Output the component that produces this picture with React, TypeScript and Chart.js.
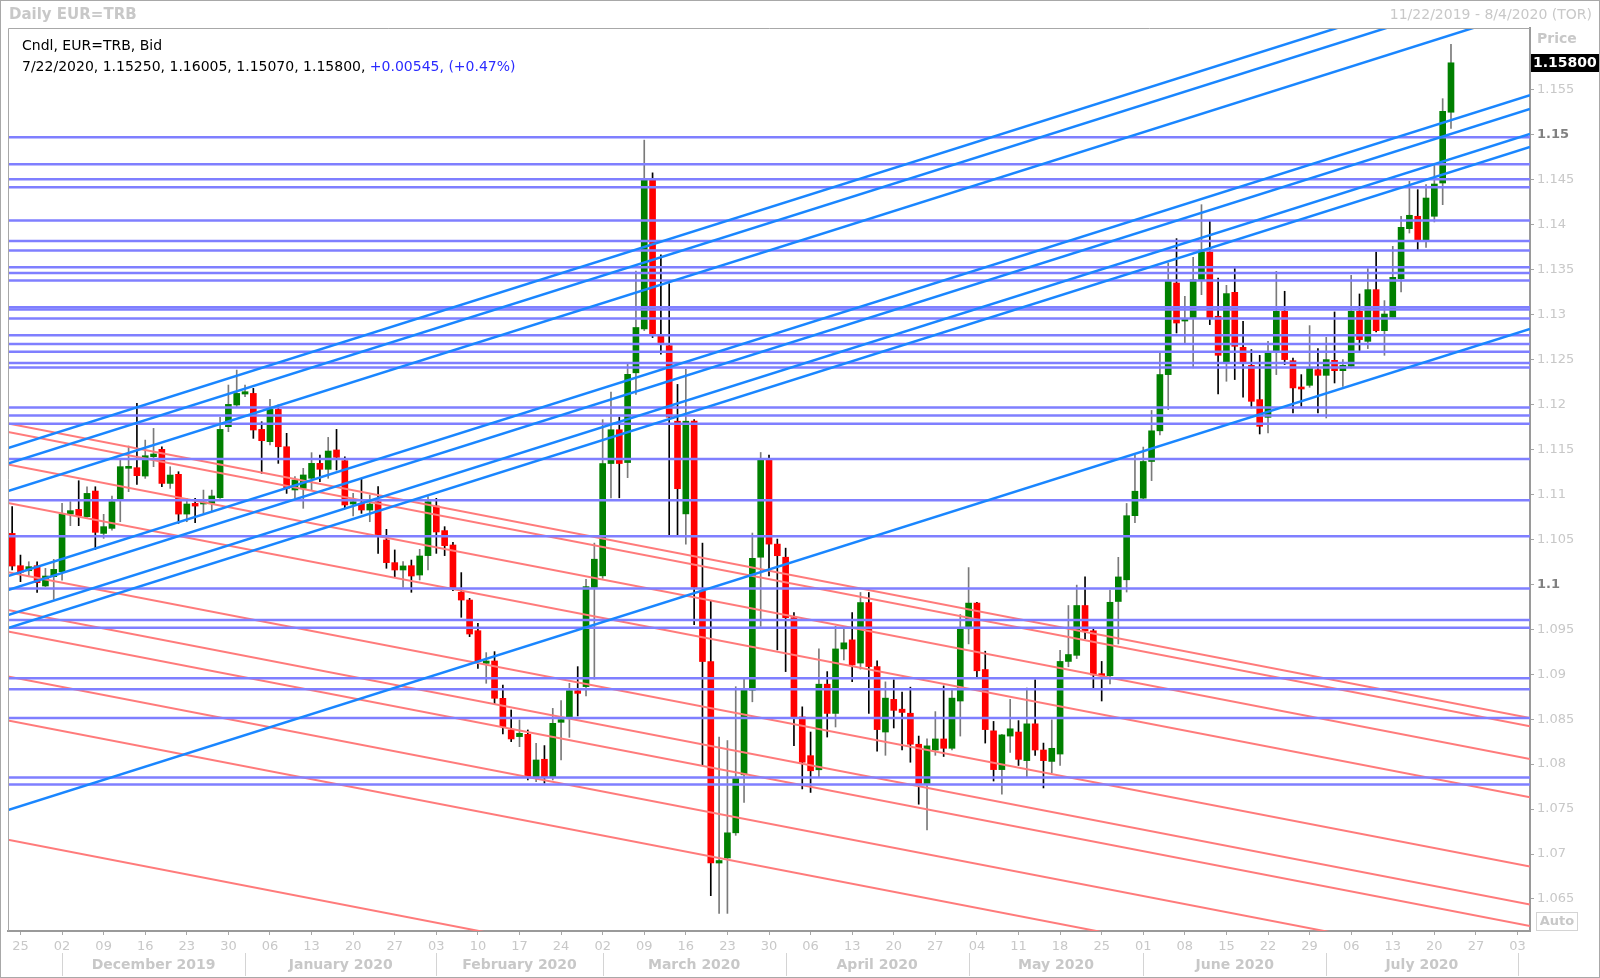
import React, { useEffect, useRef } from 'react';
import { Chart, registerables } from 'chart.js';

Chart.register(...registerables);

const CHART_W = 1600;
const CHART_H = 978;
const FONT = '"DejaVu Sans", Verdana, sans-serif';

// Daily EUR=TRB candles, 22 Nov 2019 .. 22 Jul 2020 (one value per weekday)
const opens = [
  1.10566, 1.10207, 1.10151, 1.10207, 1.09981, 1.10085, 1.10140, 1.10781, 1.10833, 1.10752,
  1.11037, 1.10566, 1.10622, 1.10948, 1.11290, 1.11297, 1.11204, 1.11419, 1.11501, 1.11122,
  1.11223, 1.10781, 1.10900, 1.10893, 1.10900, 1.10963, 1.11753, 1.11994, 1.12116, 1.12123,
  1.11723, 1.11586, 1.11945, 1.11530, 1.11049, 1.11067, 1.11179, 1.11345, 1.11279, 1.11494,
  1.11375, 1.10893, 1.10900, 1.10826, 1.10919, 1.10493, 1.10241, 1.10159, 1.10207, 1.10103,
  1.10319, 1.10871, 1.10597, 1.10437, 1.09911, 1.09825, 1.09484, 1.09121, 1.09147, 1.08732,
  1.08380, 1.08306, 1.08331, 1.07861, 1.08054, 1.07854, 1.08465, 1.08521, 1.08817, 1.08862,
  1.09965, 1.10094, 1.11343, 1.11719, 1.11354, 1.12352, 1.12839, 1.14492, 1.12766, 1.12654,
  1.11814, 1.10783, 1.11814, 1.09926, 1.09141, 1.06900, 1.06956, 1.07236, 1.07881, 1.08822,
  1.10301, 1.11382, 1.10447, 1.10301, 1.09629, 1.08525, 1.08094, 1.07937, 1.08889, 1.08564,
  1.09281, 1.09382, 1.09124, 1.09797, 1.09085, 1.08357, 1.08720, 1.08611, 1.08566, 1.08221,
  1.07780, 1.08157, 1.08280, 1.08176, 1.08702, 1.09505, 1.09791, 1.09052, 1.08370, 1.07939,
  1.08312, 1.08357, 1.08039, 1.08448, 1.08157, 1.08030, 1.08112, 1.09142, 1.09210, 1.09764,
  1.09483, 1.09006, 1.08983, 1.09809, 1.10050, 1.10763, 1.10958, 1.11366, 1.11707, 1.12332,
  1.13351, 1.12928, 1.12962, 1.13388, 1.13696, 1.12981, 1.12461, 1.13247, 1.12636, 1.12435,
  1.12054, 1.11857, 1.12599, 1.13036, 1.12487, 1.12191, 1.12213, 1.12387, 1.12324, 1.12491,
  1.12376, 1.12424, 1.13036, 1.12702, 1.13277, 1.12821, 1.12969, 1.13399, 1.13955, 1.14093,
  1.13833, 1.14093, 1.14463, 1.15250,
];
const highs = [
  1.10863, 1.10325, 1.10251, 1.10251, 1.10177, 1.10277, 1.10900, 1.10919, 1.11152, 1.11085,
  1.11085, 1.10778, 1.10982, 1.11382, 1.11538, 1.12012, 1.11604, 1.11734, 1.11530, 1.11308,
  1.11252, 1.10956, 1.10956, 1.11048, 1.11048, 1.11856, 1.12216, 1.12383, 1.12216, 1.12179,
  1.11808, 1.12057, 1.11994, 1.11679, 1.11197, 1.11290, 1.11464, 1.11438, 1.11634, 1.11723,
  1.11419, 1.11012, 1.11178, 1.10993, 1.11086, 1.10611, 1.10382, 1.10252, 1.10270, 1.10389,
  1.10975, 1.10956, 1.10641, 1.10467, 1.10130, 1.09844, 1.09566, 1.09240, 1.09251, 1.08880,
  1.08602, 1.08491, 1.08380, 1.08232, 1.08206, 1.08620, 1.08706, 1.08899, 1.09084, 1.10055,
  1.10458, 1.11831, 1.12139, 1.11859, 1.12447, 1.13483, 1.14940, 1.14576, 1.13663, 1.13343,
  1.12223, 1.12391, 1.11831, 1.10458, 1.09814, 1.08301, 1.08262, 1.08861, 1.08945, 1.10570,
  1.11466, 1.11438, 1.10503, 1.10402, 1.09685, 1.08637, 1.08357, 1.09281, 1.09029, 1.09533,
  1.09533, 1.09685, 1.09909, 1.09909, 1.09150, 1.08915, 1.08938, 1.08802, 1.08856, 1.08312,
  1.08280, 1.08584, 1.08870, 1.08838, 1.09664, 1.10186, 1.09800, 1.09256, 1.08475, 1.08330,
  1.08720, 1.08484, 1.08847, 1.08938, 1.08234, 1.08493, 1.09265, 1.09764, 1.09991, 1.10082,
  1.09505, 1.09142, 1.09937, 1.10300, 1.10899, 1.11435, 1.11526, 1.11934, 1.12569, 1.13574,
  1.13844, 1.13203, 1.13637, 1.14222, 1.14037, 1.13407, 1.13325, 1.13511, 1.12925, 1.12610,
  1.12547, 1.12702, 1.13481, 1.13259, 1.12517, 1.12332, 1.12877, 1.12621, 1.12747, 1.13029,
  1.12499, 1.13436, 1.13229, 1.13511, 1.13696, 1.13155, 1.13759, 1.14093, 1.14482, 1.14389,
  1.14445, 1.14667, 1.15401, 1.16005,
];
const lows = [
  1.10159, 1.10029, 1.10084, 1.09910, 1.09974, 1.09832, 1.10047, 1.10652, 1.10652, 1.10744,
  1.10388, 1.10511, 1.10603, 1.10696, 1.11030, 1.11111, 1.11178, 1.11308, 1.11085, 1.11067,
  1.10678, 1.10696, 1.10685, 1.10789, 1.10808, 1.10956, 1.11697, 1.11975, 1.12086, 1.11623,
  1.11234, 1.11549, 1.11345, 1.11011, 1.10956, 1.10845, 1.11049, 1.11141, 1.11179, 1.11271,
  1.10845, 1.10760, 1.10789, 1.10696, 1.10344, 1.10178, 1.10077, 1.09966, 1.09911, 1.10048,
  1.10159, 1.10344, 1.10319, 1.09929, 1.09633, 1.09418, 1.09065, 1.08899, 1.08669, 1.08335,
  1.08250, 1.08194, 1.07824, 1.07805, 1.07787, 1.07824, 1.08046, 1.08298, 1.08535, 1.08758,
  1.08945, 1.10066, 1.10962, 1.10962, 1.11186, 1.12111, 1.12822, 1.12744, 1.12559, 1.10542,
  1.10542, 1.10447, 1.09550, 1.07993, 1.06536, 1.06340, 1.06340, 1.07208, 1.07573, 1.08693,
  1.09533, 1.10094, 1.09270, 1.09029, 1.08206, 1.07724, 1.07685, 1.07853, 1.08301, 1.08413,
  1.09158, 1.08917, 1.09057, 1.08564, 1.08143, 1.08098, 1.08402, 1.08157, 1.08021, 1.07554,
  1.07267, 1.08098, 1.08085, 1.08157, 1.08312, 1.09337, 1.08974, 1.08234, 1.07812, 1.07667,
  1.08130, 1.07985, 1.07857, 1.08098, 1.07735, 1.07903, 1.07985, 1.09083, 1.09174, 1.09392,
  1.08838, 1.08702, 1.08892, 1.09337, 1.09914, 1.10685, 1.10944, 1.11153, 1.11661, 1.11943,
  1.12795, 1.12684, 1.12406, 1.13221, 1.12888, 1.12117, 1.12258, 1.12277, 1.12080, 1.11961,
  1.11672, 1.11683, 1.12332, 1.12443, 1.11905, 1.11979, 1.12191, 1.11905, 1.11850, 1.12239,
  1.12202, 1.12406, 1.12599, 1.12621, 1.12806, 1.12547, 1.12969, 1.13251, 1.13907, 1.13722,
  1.13748, 1.14030, 1.14222, 1.15070,
];
const closes = [
  1.10203, 1.10133, 1.10196, 1.10018, 1.10092, 1.10166, 1.10781, 1.10819, 1.10763, 1.11011,
  1.10578, 1.10641, 1.10919, 1.11308, 1.11300, 1.11208, 1.11430, 1.11449, 1.11122, 1.11215,
  1.10781, 1.10893, 1.10870, 1.10908, 1.10982, 1.11723, 1.12001, 1.12123, 1.12142, 1.11716,
  1.11597, 1.11945, 1.11530, 1.11067, 1.11160, 1.11216, 1.11345, 1.11279, 1.11482, 1.11412,
  1.10882, 1.10919, 1.10826, 1.10893, 1.10548, 1.10241, 1.10159, 1.10204, 1.10092, 1.10315,
  1.10919, 1.10582, 1.10430, 1.09955, 1.09825, 1.09447, 1.09140, 1.09147, 1.08732, 1.08417,
  1.08280, 1.08343, 1.07861, 1.08046, 1.07854, 1.08454, 1.08495, 1.08817, 1.08787, 1.09974,
  1.10279, 1.11343, 1.11719, 1.11343, 1.12335, 1.12856, 1.14492, 1.12766, 1.12688, 1.11859,
  1.11063, 1.11814, 1.09965, 1.09141, 1.06900, 1.06928, 1.07236, 1.07853, 1.08822, 1.10290,
  1.11382, 1.10447, 1.10318, 1.09629, 1.08525, 1.08021, 1.07926, 1.08889, 1.08564, 1.09281,
  1.09349, 1.09102, 1.09797, 1.09085, 1.08384, 1.08734, 1.08598, 1.08575, 1.08221, 1.07780,
  1.08203, 1.08280, 1.08176, 1.08734, 1.09505, 1.09791, 1.09038, 1.08384, 1.07939, 1.08325,
  1.08393, 1.08053, 1.08448, 1.08157, 1.08039, 1.08176, 1.09142, 1.09219, 1.09764, 1.09483,
  1.08992, 1.08983, 1.09800, 1.10082, 1.10763, 1.11035, 1.11366, 1.11707, 1.12333, 1.13370,
  1.12906, 1.12943, 1.13388, 1.13722, 1.12962, 1.12547, 1.13233, 1.12647, 1.12461, 1.12035,
  1.11757, 1.12573, 1.13036, 1.12499, 1.12184, 1.12172, 1.12413, 1.12324, 1.12499, 1.12376,
  1.12435, 1.13036, 1.12721, 1.13277, 1.12821, 1.13006, 1.13414, 1.13970, 1.14104, 1.13833,
  1.14296, 1.14452, 1.15260, 1.15800,
];

// Horizontal support / resistance levels
const levelLines = [
  1.14971, 1.14672, 1.14506, 1.14417, 1.14047, 1.13819, 1.13712, 1.13526, 1.13463, 1.13379,
  1.13080, 1.13055, 1.12955, 1.12769, 1.12673, 1.12587, 1.12461, 1.12410, 1.11965, 1.11876,
  1.11785, 1.11393, 1.10935, 1.10534, 1.09954, 1.09604, 1.09517, 1.08956, 1.08832, 1.08514,
  1.07851, 1.07774,
];
// Rising (blue) trend lines: price at left edge / right edge
const risingStart = [1.11516, 1.11343, 1.11038, 1.10092, 1.09937, 1.09659, 1.09514, 1.07490];
const risingEnd = [1.16865, 1.16692, 1.16387, 1.15441, 1.15286, 1.15008, 1.14863, 1.12839];
// Falling (red) trend lines: price at left edge / right edge
const fallingStart = [1.11789, 1.11695, 1.11333, 1.10905, 1.10135, 1.09713, 1.09474, 1.08976, 1.08486, 1.07158];
const fallingEnd = [1.08514, 1.08420, 1.08058, 1.07630, 1.06860, 1.06438, 1.06199, 1.05701, 1.05211, 1.03882];

// Axis labels
const dayTickLabels = ['25', '02', '09', '16', '23', '30', '06', '13', '20', '27', '03', '10', '17', '24',
  '02', '09', '16', '23', '30', '06', '13', '20', '27', '04', '11', '18', '25', '01', '08', '15', '22',
  '29', '06', '13', '20', '27', '03'];
const monthLabels = ['December 2019', 'January 2020', 'February 2020', 'March 2020', 'April 2020',
  'May 2020', 'June 2020', 'July 2020'];
const monthStartIdx = [6, 28, 51, 71, 93, 115, 136, 158, 181];
const priceTicks = [1.065, 1.07, 1.075, 1.08, 1.085, 1.09, 1.095, 1.1, 1.105, 1.11, 1.115, 1.12,
  1.125, 1.13, 1.135, 1.14, 1.145, 1.15, 1.155];
const priceTickLabels = ['1.065', '1.07', '1.075', '1.08', '1.085', '1.09', '1.095', '1.1', '1.105',
  '1.11', '1.115', '1.12', '1.125', '1.13', '1.135', '1.14', '1.145', '1.15', '1.155'];
const boldPriceLabels = ['1.1', '1.15'];

const X_MIN = -0.5;
const X_MAX = 182.5;
const Y_MIN = 1.06144;
const Y_MAX = 1.16187;

const idx = opens.map((_, i) => i);
const isUp = idx.map((i) => closes[i] >= opens[i]);

const decorPlugin = {
  id: 'decor',
  afterDraw(chart: any) {
    const { ctx, chartArea: a, scales } = chart;
    const xs = scales.x;
    const ys = scales.y;
    ctx.save();
    // outer frame
    ctx.strokeStyle = '#a8a8a8';
    ctx.lineWidth = 1;
    ctx.strokeRect(0.5, 0.5, CHART_W - 1, CHART_H - 1);
    // plot frame left/top
    ctx.beginPath();
    ctx.moveTo(a.left + 0.5, a.bottom);
    ctx.lineTo(a.left + 0.5, a.top + 0.5);
    ctx.lineTo(a.right, a.top + 0.5);
    ctx.stroke();

    // title bar
    ctx.textBaseline = 'middle';
    ctx.textAlign = 'left';
    ctx.fillStyle = '#c8c8c8';
    ctx.font = `bold 15px ${FONT}`;
    ctx.fillText('Daily EUR=TRB', 9, 15);
    ctx.textAlign = 'right';
    ctx.font = `14px ${FONT}`;
    ctx.fillText('11/22/2019 - 8/4/2020 (TOR)', 1592, 15);

    // header inside plot
    ctx.textAlign = 'left';
    ctx.font = `14px ${FONT}`;
    ctx.fillStyle = '#000000';
    ctx.fillText('Cndl, EUR=TRB, Bid', 22, 46);
    const part1 = '7/22/2020, 1.15250, 1.16005, 1.15070, 1.15800, ';
    ctx.fillText(part1, 22, 67);
    const w1 = ctx.measureText(part1).width;
    ctx.fillStyle = '#2b2bff';
    ctx.fillText('+0.00545, (+0.47%)', 22 + w1, 67);

    // month row
    ctx.strokeStyle = '#d4d4d4';
    ctx.lineWidth = 1;
    ctx.font = `bold 14px ${FONT}`;
    ctx.fillStyle = '#c8c8c8';
    ctx.textAlign = 'center';
    for (let k = 0; k < monthStartIdx.length; k++) {
      const px = Math.round(xs.getPixelForValue(monthStartIdx[k])) + 0.5;
      ctx.beginPath();
      ctx.moveTo(px, 953);
      ctx.lineTo(px, 976);
      ctx.stroke();
      if (k < monthLabels.length) {
        const mid = (monthStartIdx[k] + monthStartIdx[k + 1]) / 2;
        ctx.fillText(monthLabels[k], xs.getPixelForValue(mid), 965);
      }
    }

    // price header
    ctx.textAlign = 'left';
    ctx.font = `bold 14px ${FONT}`;
    ctx.fillStyle = '#c8c8c8';
    ctx.fillText('Price', 1537, 39);

    // last price box
    const last = closes[closes.length - 1];
    const py = ys.getPixelForValue(last);
    ctx.fillStyle = '#000000';
    ctx.fillRect(a.right + 1, Math.round(py - 9), CHART_W - a.right - 2, 18);
    ctx.fillStyle = '#ffffff';
    ctx.font = `bold 14px ${FONT}`;
    ctx.fillText(last.toFixed(5), a.right + 3, Math.round(py) + 0.5);

    // Auto box
    ctx.strokeStyle = '#d4d4d4';
    ctx.strokeRect(1536.5, 912.5, 41, 18);
    ctx.fillStyle = '#c8c8c8';
    ctx.font = `bold 13px ${FONT}`;
    ctx.textAlign = 'center';
    ctx.fillText('Auto', 1557, 922);
    ctx.restore();
  },
};

function lineDataset(x0: number, y0: number, x1: number, y1: number, color: string, width: number, order: number) {
  return {
    type: 'line',
    data: [{ x: x0, y: y0 }, { x: x1, y: y1 }],
    borderColor: color,
    backgroundColor: color,
    borderWidth: width,
    pointRadius: 0,
    pointHoverRadius: 0,
    tension: 0,
    fill: false,
    order,
  };
}

export default function App() {
  const ref = useRef<HTMLCanvasElement | null>(null);

  useEffect(() => {
    if (!ref.current) return;
    const datasets: any[] = [];
    fallingStart.forEach((p, k) => datasets.push(lineDataset(X_MIN, p, X_MAX, fallingEnd[k], '#ff7b7b', 2, 3)));
    levelLines.forEach((p) => datasets.push(lineDataset(X_MIN, p, X_MAX, p, '#7f7fff', 2.5, 2)));
    risingStart.forEach((p, k) => datasets.push(lineDataset(X_MIN, p, X_MAX, risingEnd[k], '#1a86ff', 2.5, 1)));
    datasets.push({
      type: 'bar',
      data: idx.map((i) => ({ x: i, y: [opens[i], closes[i]] })),
      backgroundColor: idx.map((i) => (isUp[i] ? '#008000' : '#ff0000')),
      borderWidth: 0,
      barThickness: 6,
      minBarLength: 2,
      grouped: false,
      order: 10,
    });
    datasets.push({
      type: 'bar',
      data: idx.map((i) => ({ x: i, y: [lows[i], highs[i]] })),
      backgroundColor: idx.map((i) => (isUp[i] ? '#7a7a7a' : '#000000')),
      borderWidth: 0,
      barThickness: 1,
      grouped: false,
      order: 11,
    });

    const chart = new Chart(ref.current, {
      type: 'bar',
      data: { datasets },
      options: {
        animation: false,
        responsive: false,
        devicePixelRatio: 1,
        events: [],
        layout: { padding: { left: 8, top: 28, right: 0, bottom: 0 } },
        plugins: { legend: { display: false }, tooltip: { enabled: false }, title: { display: false } },
        scales: {
          x: {
            type: 'linear',
            position: 'bottom',
            min: X_MIN,
            max: X_MAX,
            offset: false,
            afterBuildTicks: (s: any) => {
              s.ticks = dayTickLabels.map((_, k) => ({ value: 1 + 5 * k }));
            },
            afterFit: (s: any) => {
              s.height = 47;
            },
            grid: { display: true, drawOnChartArea: false, drawTicks: true, tickLength: 4, color: '#a8a8a8', offset: false },
            border: { display: true, color: '#9a9a9a', width: 2 },
            ticks: {
              autoSkip: false,
              maxRotation: 0,
              minRotation: 0,
              padding: 4,
              color: '#c8c8c8',
              font: { family: FONT, size: 13 },
              callback: (_v: any, i: number) => dayTickLabels[i],
            },
          },
          y: {
            type: 'linear',
            position: 'right',
            min: Y_MIN,
            max: Y_MAX,
            afterBuildTicks: (s: any) => {
              s.ticks = priceTicks.map((v) => ({ value: v }));
            },
            afterFit: (s: any) => {
              s.width = 70;
            },
            grid: { display: true, drawOnChartArea: false, drawTicks: true, tickLength: 4, color: '#a8a8a8' },
            border: { display: true, color: '#9a9a9a', width: 2 },
            ticks: {
              padding: 3,
              autoSkip: false,
              color: (c: any) => (boldPriceLabels.includes(priceTickLabels[c.index]) ? '#808080' : '#c8c8c8'),
              font: (c: any) => ({
                family: FONT,
                size: 13,
                weight: boldPriceLabels.includes(priceTickLabels[c.index]) ? 'bold' : 'normal',
              }),
              callback: (_v: any, i: number) => priceTickLabels[i],
            },
          },
        },
      },
      plugins: [decorPlugin],
    } as any);

    return () => chart.destroy();
  }, []);

  return (
    <div style={{ position: 'absolute', left: 0, top: 0, width: CHART_W, height: CHART_H, background: '#ffffff' }}>
      <canvas ref={ref} width={CHART_W} height={CHART_H} style={{ display: 'block', width: CHART_W, height: CHART_H }} />
    </div>
  );
}
